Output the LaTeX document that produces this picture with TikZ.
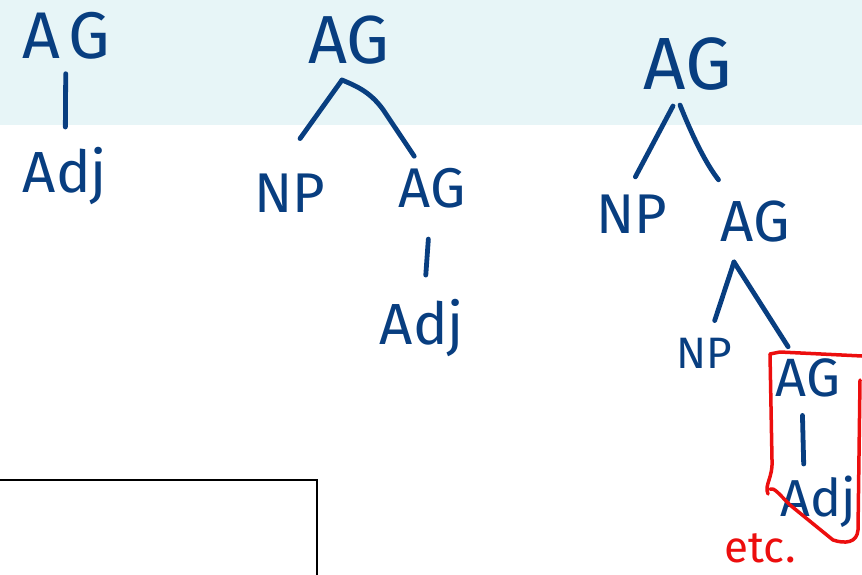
\documentclass[tikz,border=0pt]{standalone}
\usepackage{fontspec}
\setmainfont{Fira Sans}
\usetikzlibrary{positioning}
\definecolor{InkColor}{RGB}{8,62,128}
\definecolor{MarkerColor}{RGB}{236,14,14}
\definecolor{BandColor}{RGB}{231,245,247}
\tikzset{
  cat/.style={text=InkColor, inner sep=0pt, font=\fontsize{#1}{#1}\selectfont},
  cat/.default=56,
  branch/.style={draw=InkColor, line width=4.8pt, line cap=round, line join=round},
  marker/.style={draw=MarkerColor, line width=3.5pt, line cap=round, line join=round}
}

\begin{document}
\begin{tikzpicture}[x=1pt, y=-1pt]
  \useasboundingbox (0,0) rectangle (862,575);

  % Background band and frame
  \fill[BandColor] (0,0) rectangle (862,125);
  \draw[line width=2pt] (0,480) -- (317,480) -- (317,575);

  % Tree 1
  \node[cat=66] (root1) at (66,36) {A\kern8pt G};
  \node[cat=58] (adj1) at (65,176) {Adj};
  \draw[branch, shorten <=14pt, shorten >=20pt] (root1) -- (adj1);

  % Tree 2
  \node[cat=68] (root2) at (349,40) {AG};
  \node[cat=56] (np2) at (290,193) {NP};
  \node[cat=56] (ag2) at (432,188) {AG};
  \node[cat=58] (adj2) at (422,328) {Adj};
  \coordinate (fork2) at (342,80);
  \draw[branch, shorten >=43pt] (fork2) -- ([xshift=-15pt]np2.north);
  \draw[branch, shorten >=14pt] (fork2) .. controls (356,86) and (372,92) .. (386,114)
    -- ([xshift=-10pt]ag2.north);
  \draw[branch, shorten <=31pt, shorten >=24pt] (ag2) -- (adj2);

  % Tree 3
  \node[cat=74] (root3) at (688,64) {AG};
  \node[cat=56] (np3) at (632,214) {NP};
  \node[cat=58] (ag3) at (755,222) {AG};
  \node[cat=44] (np4) at (704,353) {NP};
  \node[cat=54] (ag4) at (808,378) {AG};
  \node[cat=52] (adj3) at (818,502) {Adj};
  \coordinate (fork3l) at (673,106);
  \coordinate (fork3r) at (680,105);
  \coordinate (fork4) at (734,262);
  \draw[branch, shorten >=20pt] (fork3l) -- ([xshift=-6pt]np3.north);
  \draw[branch, shorten >=27pt] (fork3r) to[bend right=8] ([xshift=-20pt]ag3.north);
  \draw[branch, shorten >=18pt] (fork4) -- (np4);
  \draw[branch, shorten >=14pt] (fork4) -- (ag4);
  \draw[branch, shorten <=18pt, shorten >=12pt] ([xshift=-6pt]ag4.south) -- ([xshift=-14pt]adj3.north);

  % Red highlight
  \draw[marker] (770,354) -- (780,352) -- (862,356);
  \draw[marker] (860,380) -- (858,530) .. controls (857,543) and (845,544) .. (833,540)
    -- (790,505) .. controls (780,495) and (774,487) .. (770,489);
  \draw[marker] (768,494) .. controls (764,485) and (773,478) .. (772,460) -- (770,354);
  \node[text=MarkerColor, inner sep=0pt, font=\fontsize{44}{44}\selectfont] (etc) at (760,548) {etc.};
\end{tikzpicture}
\end{document}
